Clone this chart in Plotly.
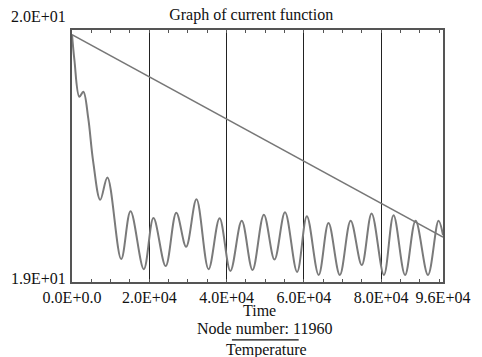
import plotly.graph_objects as go

# ---- data ----
time_vals = [0, 637, 1910, 2928, 4201, 5474, 7307, 9166, 12730, 15149, 18586,
             21081, 24238, 26988, 29534, 32207, 35338, 38190, 40991, 43919,
             46720, 49647, 52397, 55121, 58253, 60774, 63829, 66375, 69303,
             72104, 74981, 77527, 80710, 83205, 86184, 88908, 92116, 94840, 96000]
temp_vals = [19.982, 19.879, 19.735, 19.755, 19.650, 19.479, 19.326, 19.415,
             19.091, 19.281, 19.051, 19.254, 19.063, 19.275, 19.140, 19.328,
             19.051, 19.253, 19.044, 19.243, 19.048, 19.267, 19.089, 19.277,
             19.040, 19.261, 19.028, 19.234, 19.028, 19.243, 19.067, 19.272,
             19.028, 19.265, 19.028, 19.243, 19.028, 19.243, 19.186]
trend_time = [0, 96000]
trend_vals = [19.982, 19.178]

x_tickvals = [0, 20000, 40000, 60000, 80000, 96000]
x_ticktext = ["0.0E+0.0", "2.0E+04", "4.0E+04", "6.0E+04", "8.0E+04", "9.6E+04"]
y_tickvals = [19.0, 20.0]
y_ticktext = ["1.9E+01", "2.0E+01"]

FONT = "Liberation Serif"
TXT = dict(family=FONT, size=16, color="#111111")
fig = go.Figure()
fig.add_trace(go.Scatter(x=trend_time, y=trend_vals, mode="lines", xaxis="x2",
                         line=dict(color="#777777", width=1.5), showlegend=False))
fig.add_trace(go.Scatter(x=time_vals, y=temp_vals, mode="lines",
                         line=dict(color="#7a7a7a", width=2, shape="spline", smoothing=1),
                         showlegend=False))

fig.update_layout(
    width=482, height=357,
    margin=dict(l=71.5, r=33.5, t=29.5, b=75),
    paper_bgcolor="white", plot_bgcolor="white",
    font=TXT,
    title=dict(text="Graph of current function", x=0.483, xref="paper", xanchor="center",
               y=1 - 14 / 357, yref="container", yanchor="middle", font=TXT),
    xaxis=dict(range=[0, 96000], tickmode="array", tickvals=x_tickvals, ticktext=x_ticktext,
               showgrid=True, gridcolor="#222222", gridwidth=1.2,
               showline=True, linecolor="#555555", linewidth=1.5, mirror=True,
               ticks="inside", ticklen=3, tickcolor="#555555",
               minor=dict(dtick=5000, tick0=0, ticks="inside", ticklen=3, tickcolor="#555555",
                          showgrid=False),
               zeroline=False, tickfont=TXT),
    xaxis2=dict(range=[0, 96000], overlaying="x", side="top", anchor="y",
                tickmode="array", tickvals=x_tickvals, showticklabels=False,
                ticks="inside", ticklen=3, tickcolor="#555555",
                minor=dict(dtick=5000, tick0=0, ticks="inside", ticklen=3, tickcolor="#555555",
                           showgrid=False),
                showgrid=False, zeroline=False, showline=False),
    yaxis=dict(range=[19.0, 20.0], showticklabels=False, ticks="", showgrid=False,
               showline=True, linecolor="#555555", linewidth=1.5, mirror=True,
               zeroline=False),
)

# y tick labels
for v, txt, shift in zip(y_tickvals, y_ticktext, [4, 13.5]):
    fig.add_annotation(x=0, xref="paper", xanchor="right", xshift=-4,
                       y=v, yref="y", yanchor="middle", yshift=shift,
                       text=txt, showarrow=False, font=TXT)

fig.add_annotation(x=0.505, xref="paper", y=-0.1149, yref="paper", yanchor="middle",
                   text="Time", showarrow=False, font=TXT)
fig.add_annotation(x=0.520, xref="paper", y=-0.186, yref="paper", yanchor="middle",
                   text="Node number: 11960", showarrow=False, font=TXT)
fig.add_annotation(x=0.523, xref="paper", y=-0.269, yref="paper", yanchor="middle",
                   text="Temperature", showarrow=False, font=TXT)
fig.add_shape(type="line", xref="paper", yref="paper", x0=0.431, x1=0.611,
              y0=-0.2297, y1=-0.2297, line=dict(color="#111111", width=1.2))

fig.write_html("out.html")
